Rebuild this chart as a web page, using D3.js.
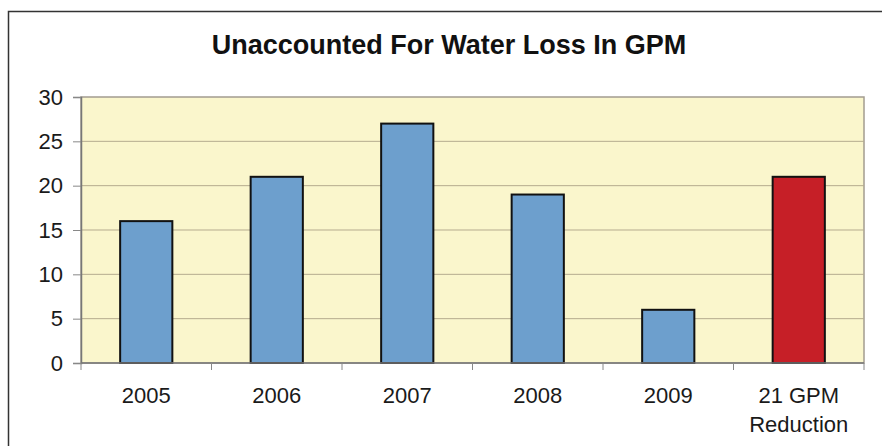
<!DOCTYPE html>
<html>
<head>
<meta charset="utf-8">
<script src="https://cdn.jsdelivr.net/npm/d3@7"></script>
<style>
  body { margin: 0; background: #fff; }
  svg { display: block; font-family: "Liberation Sans", Arial, sans-serif; }
</style>
</head>
<body>
<div id="chart"></div>
<script>
// data
const categories = ["2005", "2006", "2007", "2008", "2009", "21 GPM\nReduction"];
const values = [16, 21, 27, 19, 6, 21];
const barColors = ["#6d9fcd", "#6d9fcd", "#6d9fcd", "#6d9fcd", "#6d9fcd", "#c61f27"];
const yTicks = [0, 5, 10, 15, 20, 25, 30];

const W = 882, H = 446;
const margin = { top: 97, right: 18, bottom: 83, left: 81 };
const width = W - margin.left - margin.right;
const height = H - margin.top - margin.bottom;

const svg = d3.select("#chart").append("svg")
    .attr("width", W)
    .attr("height", H);

// outer frame (runs off the right and bottom edge)
svg.append("rect")
    .attr("x", 8.5).attr("y", 11.5)
    .attr("width", 900).attr("height", 500)
    .attr("fill", "#fff")
    .attr("stroke", "#333")
    .attr("stroke-width", 1.5);

svg.append("text")
    .attr("x", 449).attr("y", 54)
    .attr("text-anchor", "middle")
    .style("font-size", "27px")
    .style("font-weight", "bold")
    .attr("fill", "#111")
    .text("Unaccounted For Water Loss In GPM");

const g = svg.append("g")
    .attr("transform", "translate(" + margin.left + "," + margin.top + ")");

const x = d3.scaleBand()
    .domain(categories)
    .range([0, width])
    .paddingInner(0.6)
    .paddingOuter(0.3);

const y = d3.scaleLinear()
    .domain([0, 30])
    .range([height, 0]);

// plot background
g.append("rect")
    .attr("width", width).attr("height", height)
    .attr("fill", "#faf6cc")
    .attr("stroke", "#a39c90")
    .attr("stroke-width", 1.5);

// gridlines
g.selectAll(".grid")
    .data(yTicks.filter(d => d > 0 && d < 30))
    .enter().append("line")
    .attr("x1", 0).attr("x2", width)
    .attr("y1", d => y(d)).attr("y2", d => y(d))
    .attr("stroke", "#b5ab8e")
    .attr("stroke-width", 1);

// y axis
const yAxis = g.append("g")
    .call(d3.axisLeft(y).tickValues(yTicks).tickSize(8).tickPadding(10));
yAxis.select(".domain").attr("stroke", "#777").attr("stroke-width", 1.5);
yAxis.selectAll(".tick line").attr("stroke", "#888");
yAxis.selectAll("text")
    .style("font-size", "22px")
    .attr("fill", "#1a1a1a")
    .attr("font-family", "Liberation Sans, Arial, sans-serif");

// bars
g.selectAll(".bar")
    .data(values)
    .enter().append("rect")
    .attr("x", (d, i) => x(categories[i]))
    .attr("y", d => y(d))
    .attr("width", x.bandwidth())
    .attr("height", d => height - y(d))
    .attr("fill", (d, i) => barColors[i])
    .attr("stroke", "#111")
    .attr("stroke-width", 2);

// x axis line and ticks at category boundaries
const xg = g.append("g").attr("transform", "translate(0," + height + ")");
xg.append("line")
    .attr("x1", 0).attr("x2", width)
    .attr("stroke", "#777").attr("stroke-width", 1.5);
xg.selectAll(".xtick")
    .data(d3.range(categories.length + 1))
    .enter().append("line")
    .attr("x1", i => i * width / categories.length)
    .attr("x2", i => i * width / categories.length)
    .attr("y1", 0).attr("y2", 7)
    .attr("stroke", "#888");

xg.selectAll(".xlabel")
    .data(categories)
    .enter().append("text")
    .attr("x", d => x(d) + x.bandwidth() / 2)
    .attr("y", 40)
    .attr("text-anchor", "middle")
    .style("font-size", "22px")
    .attr("fill", "#1a1a1a")
    .each(function(d) {
        const lines = d.split("\n");
        d3.select(this).selectAll("tspan")
            .data(lines)
            .enter().append("tspan")
            .attr("x", x(d) + x.bandwidth() / 2)
            .attr("dy", (l, i) => i === 0 ? 0 : 29)
            .text(l => l);
    });
</script>
</body>
</html>
